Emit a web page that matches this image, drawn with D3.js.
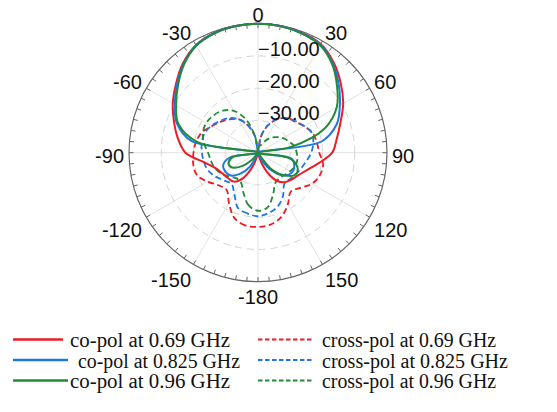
<!DOCTYPE html>
<html>
<head>
<meta charset="utf-8">
<script src="https://cdn.jsdelivr.net/npm/d3@7"></script>
<style>
  body { margin: 0; background: #fff; }
  svg { display: block; }
  .ang-label, .rad-label { font-family: "Liberation Sans", Arial, sans-serif; font-size: 20px; fill: #111; }
  .leg-text { font-family: "Liberation Serif", "Times New Roman", serif; font-size: 20.5px; fill: #111; }
</style>
</head>
<body>
<div id="chart"></div>
<script>
// angles in degrees, 0 = boresight (top), clockwise positive
var angles = [-180, -170, -160, -150, -140, -130, -120, -110, -100, -90, -80, -70,
  -60, -50, -40, -30, -20, -10, 0, 10, 20, 30, 40, 50,
  60, 70, 80, 90, 100, 110, 120, 130, 140, 150, 160, 170];

// co-pol, dB
var coPol069 = [-40, -40, -36, -31, -28.3, -27.8, -27.2, -26, -23, -17.5, -14.8, -12.3,
  -9.5, -6.8, -3.8, -1.5, -0.5, -0.1, 0, -0.1, -0.4, -1.1, -3.5, -6.5,
  -9.5, -12.8, -15.2, -17, -21, -24, -25.8, -26.8, -28, -31, -36, -40];
var coPol0825 = [-40, -40, -40, -35, -31.5, -29, -28.3, -28.5, -31, -40, -19, -13.2,
  -10.2, -7.2, -4.1, -1.6, -0.5, -0.1, 0, -0.1, -0.5, -1.3, -3.9, -7.3,
  -10.7, -14, -20, -40, -29.5, -28, -27.8, -29, -32, -36, -40, -40];
var coPol096 = [-40, -40, -40, -40, -37, -33.5, -30.8, -30.3, -32, -40, -21, -13.7,
  -10.7, -7.6, -4.3, -1.7, -0.6, -0.15, 0, -0.15, -0.6, -1.5, -4.2, -8,
  -11.8, -18, -29.6, -40, -30, -27, -26.5, -29, -33, -40, -40, -40];

// cross-pol, dB
var xPol069 = [-17, -17.1, -18.5, -22, -24.9, -24.2, -22, -19.8, -19.6, -20, -20.5, -21.5,
  -23.5, -25, -26.5, -28, -31, -35, -40, -35, -31, -28, -26, -25,
  -23.5, -22, -21.5, -21, -19.5, -19.6, -20.7, -23, -24.2, -21.5, -18.8, -17.4];
var xPol0825 = [-20.3, -20.9, -21.8, -25.3, -27.3, -26.5, -25, -23.6, -23, -22.6, -22.3, -22.4,
  -23.3, -24.7, -26, -28, -31, -35, -40, -35, -31, -28, -26, -24.8,
  -23.5, -22.2, -22.6, -23.5, -24.8, -25.8, -26.6, -27.2, -27.3, -24.5, -22.2, -21];
var xPol096 = [-22, -23.4, -26.8, -29.4, -29.6, -28.5, -27, -25.8, -25.2, -24.5, -23, -21.8,
  -21.5, -22, -23, -25, -29, -35, -40, -38, -37.5, -36, -34, -32.5,
  -31, -29.8, -28.5, -28, -27.6, -27.8, -28.5, -29.3, -29.6, -29.2, -26.3, -22.8];

var rTicks = [-10, -20, -30];
var angTicks = [0, 30, 60, 90, 120, 150, -180, -150, -120, -90, -60, -30];

var series = [
  { name: "cross-pol at 0.69 GHz", values: xPol069, color: "#ec1c24", dashed: true },
  { name: "cross-pol at 0.825 GHz", values: xPol0825, color: "#1f78e0", dashed: true },
  { name: "cross-pol at 0.96 GHz", values: xPol096, color: "#238a3a", dashed: true },
  { name: "co-pol at 0.69 GHz", values: coPol069, color: "#ec1c24", dashed: false },
  { name: "co-pol at 0.825 GHz", values: coPol0825, color: "#1f78e0", dashed: false },
  { name: "co-pol at 0.96 GHz", values: coPol096, color: "#238a3a", dashed: false }
];

var width = 557, height = 412;
var cx = 258, cy = 152.7, R = 129;

var svg = d3.select("#chart").append("svg")
  .attr("width", width).attr("height", height);

var r = d3.scaleLinear().domain([-40, 0]).range([0, R]).clamp(true);
var toRad = (d) => (d * Math.PI) / 180;

var g = svg.append("g").attr("transform", "translate(" + cx + "," + cy + ")");

// radial spokes
g.selectAll(".spoke")
  .data(d3.range(0, 360, 30))
  .enter().append("line")
  .attr("x1", 0).attr("y1", 0)
  .attr("x2", (d) => R * Math.sin(toRad(d)))
  .attr("y2", (d) => -R * Math.cos(toRad(d)))
  .attr("stroke", "#e2e2e2").attr("stroke-width", 1);

// dashed level circles
g.selectAll(".ring")
  .data(rTicks)
  .enter().append("circle")
  .attr("r", (d) => r(d))
  .attr("fill", "none")
  .attr("stroke", "#d4d4d4")
  .attr("stroke-width", 1)
  .attr("stroke-dasharray", "7,5");

// outer circle + ticks
g.append("circle").attr("r", R).attr("fill", "none")
  .attr("stroke", "#666").attr("stroke-width", 1.2);

g.selectAll(".tick")
  .data(d3.range(0, 360, 5))
  .enter().append("line")
  .attr("x1", (d) => R * Math.sin(toRad(d)))
  .attr("y1", (d) => -R * Math.cos(toRad(d)))
  .attr("x2", (d) => (R - 4.5) * Math.sin(toRad(d)))
  .attr("y2", (d) => -(R - 4.5) * Math.cos(toRad(d)))
  .attr("stroke", "#666").attr("stroke-width", 1);

// pattern curves
var line = d3.lineRadial()
  .angle((d) => toRad(d.a))
  .radius((d) => r(d.v))
  .curve(d3.curveCatmullRomClosed.alpha(0.5));

series.forEach(function (s) {
  var pts = angles.map((a, i) => ({ a: a, v: s.values[i] }));
  g.append("path")
    .datum(pts)
    .attr("d", line)
    .attr("fill", "none")
    .attr("stroke", s.color)
    .attr("stroke-width", s.dashed ? 1.8 : 2)
    .attr("stroke-dasharray", s.dashed ? "6,3.5" : null);
});

// radial labels
g.selectAll(".rad-label")
  .data(rTicks)
  .enter().append("text")
  .attr("class", "rad-label")
  .attr("x", 0)
  .attr("y", (d) => -r(d))
  .text((d) => d3.format(".2f")(d));

// angular labels, nearest corner on a circle
var capH = 14.3;
var lab = svg.append("g").attr("transform", "translate(" + cx + "," + (cy + 3.5) + ")");
angTicks.forEach(function (a) {
  var t = lab.append("text").attr("class", "ang-label")
    .attr("text-anchor", "middle").text(a);
  var w = t.node().getComputedTextLength();
  var s = Math.sin(toRad(a)), c = Math.cos(toRad(a));
  var sx = Math.abs(s) < 0.01 ? 0 : Math.sign(s);
  var sy = Math.abs(c) < 0.01 ? 0 : Math.sign(c);
  var RL = R + 5;
  var x = RL * s + (sx * w) / 2;
  var y = -RL * c - (sy * capH) / 2;
  t.attr("x", x).attr("y", y + capH / 2);
});

// legend
var legRowY = [339.5, 360, 380.5];
var legCols = [
  { x1: [13, 13, 13], x2: [63, 68, 68], tx: [70, 78, 70], tw: [160, 162, 160] },
  { x1: [258, 258, 258], x2: [313, 313, 313], tx: [322, 322, 322], tw: [174, 186, 174] }
];
var legItems = [
  [series[3], series[4], series[5]],
  [series[0], series[1], series[2]]
];
legItems.forEach(function (col, ci) {
  col.forEach(function (s, ri) {
    var y = legRowY[ri];
    svg.append("line")
      .attr("x1", legCols[ci].x1[ri]).attr("x2", legCols[ci].x2[ri])
      .attr("y1", y).attr("y2", y)
      .attr("stroke", s.color)
      .attr("stroke-width", s.dashed ? 2 : 2.5)
      .attr("stroke-dasharray", s.dashed ? "4.5,2.5" : null);
    svg.append("text").attr("class", "leg-text")
      .attr("x", legCols[ci].tx[ri]).attr("y", y + 7.5)
      .attr("textLength", legCols[ci].tw[ri])
      .attr("lengthAdjust", "spacingAndGlyphs")
      .text(s.name);
  });
});
</script>
</body>
</html>
